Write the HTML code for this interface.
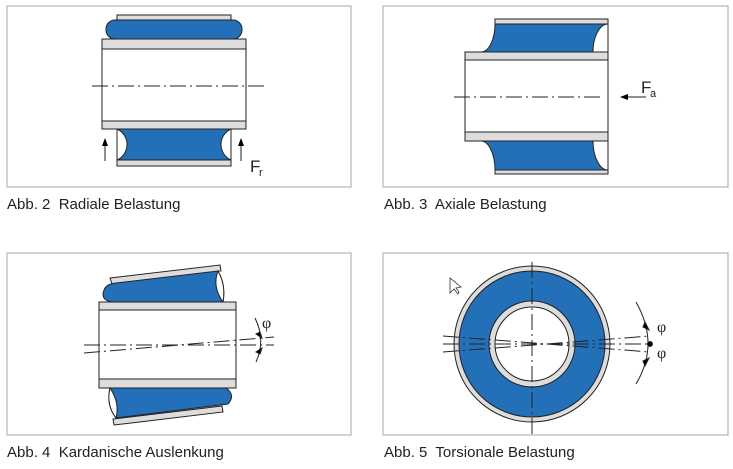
<!DOCTYPE html>
<html><head><style>
body{margin:0;background:#fff;width:733px;height:469px;overflow:hidden;font-family:"Liberation Sans",sans-serif}
.cap{position:absolute;font-size:15px;color:#222;white-space:pre}
</style></head><body>
<svg width="733" height="469" style="position:absolute;left:0;top:0" xmlns="http://www.w3.org/2000/svg">
<defs><marker id="ah" markerWidth="8" markerHeight="8" refX="7" refY="4" orient="auto" markerUnits="userSpaceOnUse"><path d="M0,1 L8,4 L0,7 Z" fill="#000"/></marker></defs>
<g fill="none" stroke="#b5b5b5" stroke-width="1.2">
<rect x="7" y="6" width="344" height="181"/>
<rect x="383" y="6" width="345" height="181"/>
<rect x="7" y="253" width="344" height="182"/>
<rect x="383" y="253" width="345" height="182"/>
</g>
<g stroke="#222" stroke-width="1">
<!-- Panel 1 -->
<rect x="117" y="15" width="114" height="5" fill="#ddd"/>
<rect x="106" y="20" width="136" height="19" rx="9" fill="#2470b8"/>
<rect x="102" y="39" width="144" height="10" fill="#ddd"/>
<rect x="102" y="49" width="144" height="72" fill="#fff"/>
<rect x="102" y="121" width="144" height="8" fill="#ddd"/>
<path d="M117,129 V160 M231,129 V160" fill="none"/>
<path d="M117,129 H231 A17,17 0 0 0 231,160 H117 A17,17 0 0 0 117,129 Z" fill="#2470b8"/>
<rect x="117" y="160" width="114" height="6" fill="#ddd"/>
<line x1="92" y1="86" x2="264" y2="86" stroke-dasharray="16,4,2,4"/>
<line x1="105" y1="161" x2="105" y2="139" marker-end="url(#ah)"/>
<line x1="241" y1="161" x2="241" y2="139" marker-end="url(#ah)"/>
<!-- Panel 2 -->
<rect x="495" y="19" width="113" height="5" fill="#ddd"/>
<path d="M495,24 H608 A15,28 0 0 0 593,52 H481 A14,28 0 0 0 495,24 Z" fill="#2470b8"/>
<line x1="608" y1="19" x2="608" y2="174"/>
<rect x="465" y="52" width="143" height="8" fill="#ddd"/>
<rect x="465" y="60" width="143" height="72" fill="#fff"/>
<rect x="465" y="132" width="143" height="9" fill="#ddd"/>
<path d="M481,141 H593 A15,29 0 0 0 608,170 H495 A14,29 0 0 0 481,141 Z" fill="#2470b8"/>
<rect x="495" y="170" width="113" height="4" fill="#ddd"/>
<line x1="454" y1="97" x2="604" y2="97" stroke-dasharray="16,4,2,4"/>
<line x1="646" y1="97" x2="621" y2="97" marker-end="url(#ah)"/>
<!-- Panel 3 -->
<path d="M110,278 L220,265 L221,271 L112,284 Z" fill="#ddd"/>
<path d="M116,283 L218,271 Q226,285 223,302 L112,302 Q100,300 104,290 Q106,284 116,283 Z" fill="#2470b8"/>
<path d="M218,271 Q212,287 223,302 Q226,285 218,271 Z" fill="#fff"/>
<rect x="99" y="302" width="137" height="8" fill="#ddd"/>
<rect x="99" y="310" width="137" height="69" fill="#fff"/>
<rect x="99" y="379" width="137" height="9" fill="#ddd"/>
<path d="M110,388 L226,388 Q236,395 228,404 L116,418 Q106,405 110,388 Z" fill="#2470b8"/>
<path d="M110,388 Q120,403 116,418 Q106,405 110,388 Z" fill="#fff"/>
<path d="M113,419 L222,406 L223,412 L114,425 Z" fill="#ddd"/>
<line x1="84" y1="345" x2="274" y2="345" stroke-dasharray="16,4,2,4"/>
<line x1="84" y1="353" x2="274" y2="337" stroke-dasharray="16,4,2,4"/>
<path d="M255,318 Q266,340 256,362" fill="none"/>
<path d="M260,332 L262,338 L256,334 Z" fill="#000"/>
<path d="M260,354 L262,348 L256,352 Z" fill="#000"/>
<!-- Panel 4 -->
<circle cx="532" cy="344" r="78" fill="#ddd"/>
<circle cx="532" cy="344" r="73" fill="#2470b8"/>
<circle cx="532" cy="344" r="43" fill="#ddd"/>
<circle cx="532" cy="344" r="37" fill="#fff"/>
<line x1="532" y1="262" x2="532" y2="434" stroke-dasharray="16,4,2,4"/>
<line x1="443" y1="344" x2="650" y2="344" stroke-dasharray="16,4,2,4"/>
<line x1="443" y1="336" x2="650" y2="352" stroke-dasharray="16,4,2,4"/>
<line x1="443" y1="352" x2="650" y2="336" stroke-dasharray="16,4,2,4"/>
<path d="M636,302 Q660,344 636,384" fill="none"/>
<circle cx="650" cy="344" r="2.5" fill="#000"/>
<path d="M645,322 L649,330 L643,327 Z" fill="#000"/>
<path d="M645,366 L649,358 L643,361 Z" fill="#000"/>
<path d="M450,278 L450,293 L454,289 L458,294 L459,292 L456,288 L461,287 Z" fill="#fff" stroke="#333" stroke-width="0.8"/>
</g>
<g font-family="Liberation Sans,sans-serif" fill="#222">
<text x="250" y="172" font-size="17">F</text><text x="259" y="176" font-size="11">r</text>
<text x="641" y="93" font-size="17">F</text><text x="650" y="97" font-size="11">a</text>
<text x="262" y="328" font-size="16" font-family="Liberation Serif,serif">φ</text>
<text x="657" y="332" font-size="16" font-family="Liberation Serif,serif">φ</text>
<text x="657" y="358" font-size="16" font-family="Liberation Serif,serif">φ</text>
</g>
</svg>
<div class="cap" style="left:7px;top:196px">Abb. 2  Radiale Belastung</div>
<div class="cap" style="left:384px;top:196px">Abb. 3  Axiale Belastung</div>
<div class="cap" style="left:7px;top:444px">Abb. 4  Kardanische Auslenkung</div>
<div class="cap" style="left:384px;top:444px">Abb. 5  Torsionale Belastung</div>
</body></html>
